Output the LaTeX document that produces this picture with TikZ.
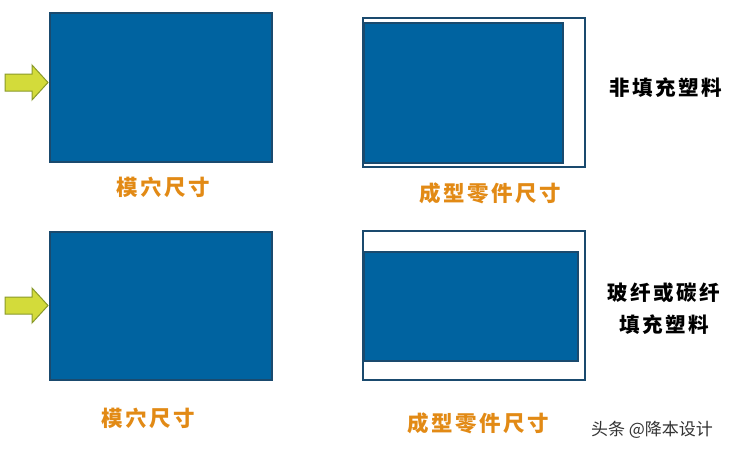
\documentclass[tikz,border=0pt]{standalone}
\usepackage{fontspec}
\newfontfamily\cjk[LetterSpace=12]{Noto Sans CJK SC}
\newfontfamily\cjkplain{Noto Sans CJK SC}
\begin{document}
\begin{tikzpicture}[x=1pt,y=-1pt,
  blockfill/.style={fill=moldblue,draw=edgeblue,line width=1.8pt},
  outline/.style={draw=edgeblue,line width=2pt},
  arrowshape/.style={fill=arrowyellow,draw=arrowedge,line width=1pt,line join=miter},
  orangelabel/.style={text=labelorange,font=\cjk\bfseries\fontsize{21.5}{24}\selectfont,inner sep=0pt},
  blacklabel/.style={text=black,font=\cjk\bfseries\fontsize{20.5}{32}\selectfont,inner sep=0pt,align=center},
]
\definecolor{moldblue}{HTML}{0063A0}
\definecolor{edgeblue}{HTML}{1A4A6E}
\definecolor{arrowyellow}{HTML}{D3DB3A}
\definecolor{arrowedge}{HTML}{8A9A2A}
\definecolor{labelorange}{HTML}{E28A15}
\useasboundingbox[fill=white] (0,0) rectangle (733,452);

% ---- top row ----
\path[blockfill] (50,13) rectangle (272,162);
\path[arrowshape] (5,74) -- (32,74) -- (32,65) -- (48,82.5) -- (32,100) -- (32,91) -- (5,91) -- cycle;
\node[orangelabel] (labA) at (163,187) {模穴尺寸};

\path[blockfill] (364,23) rectangle (563,163);
\path[outline] (363,18) rectangle (585,167);
\node[orangelabel] (labB) at (490,193) {成型零件尺寸};
\node[blacklabel] (labC) at (666,88) {非填充塑料};

% ---- bottom row ----
\path[blockfill] (50,232) rectangle (272,380);
\path[arrowshape] (5,297) -- (32,297) -- (32,288) -- (48,305.5) -- (32,323) -- (32,314) -- (5,314) -- cycle;
\node[orangelabel] (labD) at (148,418) {模穴尺寸};

\path[blockfill] (364,252) rectangle (578,361);
\path[outline] (363,231) rectangle (585,380);
\node[orangelabel] (labE) at (478,423) {成型零件尺寸};
\node[blacklabel] (labF) at (664,309) {玻纤或碳纤\\填充塑料};

% ---- watermark ----
\node[text=black!80,font=\cjkplain\fontsize{17}{20}\selectfont,inner sep=0pt] (wm) at (652,430) {头条 @降本设计};
\end{tikzpicture}
\end{document}
